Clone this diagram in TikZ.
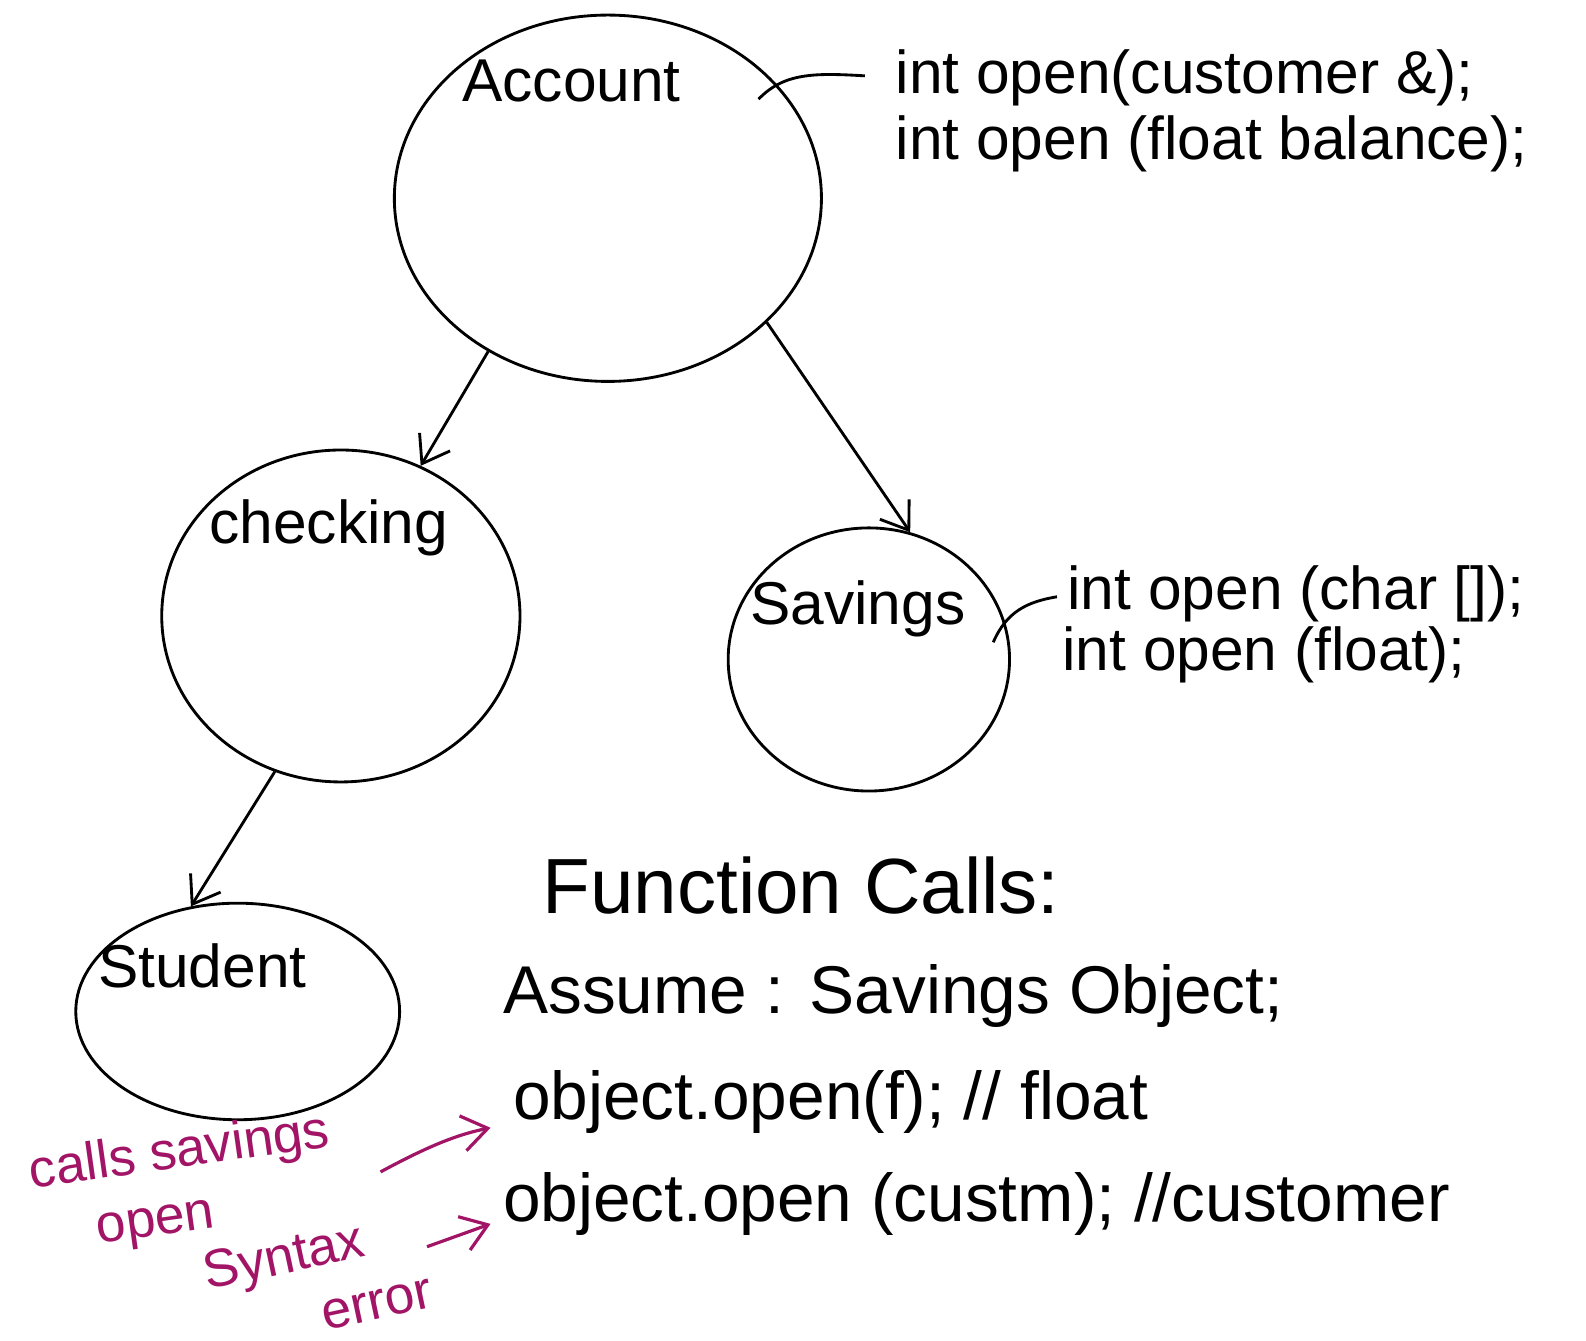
\documentclass[tikz,border=0pt]{standalone}
\usepackage{fontspec}
\setmainfont{Liberation Sans}
\usetikzlibrary{shapes.geometric,arrows.meta}
\definecolor{penred}{RGB}{162,20,102}
\tikzset{
  cls/.style={draw,ellipse,line width=0.8pt,inner sep=0pt},
  clsname/.style={font=\fontsize{17}{20}\selectfont},
  sig/.style={font=\fontsize{17}{20}\selectfont,anchor=west},
  code/.style={font=\fontsize{19}{22}\selectfont,anchor=west},
  link/.style={line width=0.8pt,-{Straight Barb[length=2.5mm,width=3.5mm]}},
  note/.style={text=penred,font=\fontsize{15}{18}\selectfont,inner sep=1pt,align=left},
  notearrow/.style={draw=penred,line width=0.9pt,-{Straight Barb[length=2.5mm,width=3.5mm]}}
}
\begin{document}
\begin{tikzpicture}[x=0.01cm,y=-0.01cm]
\useasboundingbox (0,0) rectangle (1568,1325);
% classes
\node[cls,minimum width=4.22cm,minimum height=3.62cm] (acc) at (601,196) {};
\node[clsname] (accname) at (565,80) {Account};
\node[cls,minimum width=3.54cm,minimum height=3.28cm] (chk) at (337,609) {};
\node[clsname] (chkname) at (325,522) {checking};
\node[cls,minimum width=2.78cm,minimum height=2.60cm] (sav) at (859,652) {};
\node[clsname] (savname) at (848,602) {Savings};
\node[cls,minimum width=3.20cm,minimum height=2.14cm] (stu) at (235,1000) {};
\node[clsname] (stuname) at (200,955) {Student};
\draw[link] (acc.-128) -- (chk.62);
\draw[link] (acc.-38.5) -- (sav.72);
\draw[link] (chk.-113) -- (stu.114);
% open() signatures
\node[sig] (accsig1) at (873,77) {int open(customer \&);};
\node[sig] (accsig2) at (873,142) {int open (float balance);};
\coordinate (accpin) at (750,98);
\draw[line width=0.8pt] (accpin) .. controls (775,72) and (805,72) .. ([shift={(-18,-2)}]accsig1.west);
\node[sig] (savsig1) at (1043,587) {int open (char []);};
\node[sig] (savsig2) at (1038,647) {int open (float);};
\coordinate (savpin) at (982,635);
\draw[line width=0.8pt] (savpin) .. controls (995,605) and (1015,595) .. ([shift={(2,3)}]savsig1.west);
% calls
\node[font=\fontsize{22}{26}\selectfont] (fcalls) at (792,875) {Function Calls:};
\node[code] (assume) at (485,985) {Assume : Savings Object;};
\node[code] (call1) at (495,1090) {object.open(f); // float};
\node[code] (call2) at (485,1190) {object.open (custm); //customer};
% remarks
\node[note,rotate=8] (callsnote) at (182,1172) {calls savings\\\hspace*{1.1em}open};
\node[note,rotate=12] (synnote) at (314,1266) {Syntax\\\hspace*{2em}error};
\draw[notearrow] ([shift={(42,8)}]callsnote.east) .. controls (420,1135) and (450,1122) .. ([shift={(-10,25)}]call1.west);
\draw[notearrow] ([shift={(-2,-10)}]synnote.east) -- ([shift={(0,20)}]call2.west);
\end{tikzpicture}
\end{document}
